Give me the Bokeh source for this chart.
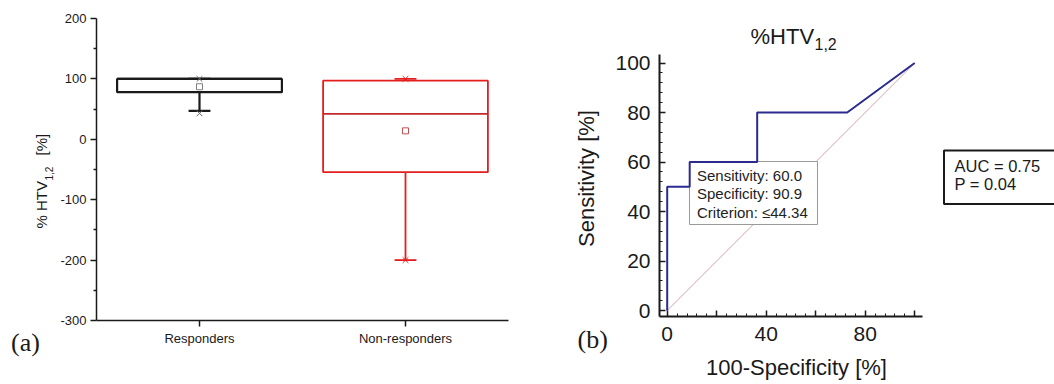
import math
from bokeh.plotting import figure
from bokeh.layouts import row
from bokeh.models import Range1d, SingleIntervalTicker, FixedTicker, Label
from bokeh.embed import file_html
from bokeh.resources import INLINE
from bokeh.core.properties import value

# ---------------- panel (a): box plot data ----------------
groups = ["Responders", "Non-responders"]
group_pos = [1, 2]
q1 = [78, -54.5]
q3 = [100, 97]
median = [100, 42]
mean = [87, 14]
whisk_low = [47, -200]
whisk_high = [100, 100]
x_min = [43, -200]
x_max = [100, 100]
y_ticks_a = [-300, -200, -100, 0, 100, 200]

# ---------------- panel (b): ROC data ----------------
fpr = [0, 0, 9.09, 9.09, 36.36, 36.36, 72.73, 100]     # 100-Specificity [%]
tpr = [0, 50, 50, 60, 60, 80, 80, 100]                 # Sensitivity [%]
chance_x = [0, 100]
chance_y = [0, 100]
criterion_lines = ["Sensitivity: 60.0", "Specificity: 90.9", "Criterion: \u226444.34"]
auc_lines = ["AUC = 0.75", "P = 0.04"]

SANS = "Liberation Sans"
SERIF = "Liberation Serif"
BLACK = "#1a1a1a"
RED = "#e41e1e"
NAVY = "#2b2b8f"
H = 384

# page-pixel helpers; every frame covers its whole figure, axes use fixed_location
# panel a: x 0.5 at page 96, 2.5 at page 508 ; y 200 at page 18, -300 at page 320
AXS = 412.0 / 2.0
AYS = 302.0 / 500.0
def ax(px):
    return 0.5 + (px - 96) / AXS
def ay(py):
    return 200 - (py - 18) / AYS
# panel b: 2.475 px per unit, x=0 at page 666.7, y=0 at page 310
S = 2.475
def bx(px):
    return (px - 666.7) / S
def by(py):
    return (310 - py) / S

def base_fig(w, xr, yr, **kw):
    p = figure(width=w, height=H, x_range=xr, y_range=yr, output_backend="svg",
               toolbar_location=None, min_border_left=0, min_border_right=0,
               min_border_top=0, min_border_bottom=0, **kw)
    p.grid.visible = False
    p.outline_line_color = None
    p.border_fill_color = "white"
    p.background_fill_color = "white"
    return p

def lab(p, x, y, text, size, font=SANS, **kw):
    opts = dict(text_align="left", text_baseline="middle", text_color=BLACK)
    opts.update(kw)
    p.add_layout(Label(x=x, y=y, text=text, text_font=font, text_font_size=size, **opts))

# ======================= panel (a) =======================
P1W = 548
p1 = base_fig(P1W, Range1d(ax(0), ax(P1W)), Range1d(ay(H), ay(0)))
p1.yaxis.ticker = FixedTicker(ticks=y_ticks_a, minor_ticks=[t + 50 for t in y_ticks_a[:-1]])
p1.yaxis.major_label_overrides = {t: str(t) for t in y_ticks_a}
p1.yaxis.fixed_location = 0.5
p1.yaxis.bounds = (-300, 200)
p1.xaxis.ticker = FixedTicker(ticks=group_pos)
p1.xaxis.major_label_overrides = {g: n for g, n in zip(group_pos, groups)}
p1.xaxis.fixed_location = -300
p1.xaxis.bounds = (0.5, 2.5)
for axis in (p1.xaxis, p1.yaxis):
    axis.axis_line_width = 1.5
    axis.axis_line_color = BLACK
    axis.major_tick_line_width = 1.5
    axis.major_tick_line_color = BLACK
    axis.minor_tick_line_width = 1.5
    axis.minor_tick_line_color = BLACK
    axis.major_tick_in = 0
    axis.major_tick_out = 6
    axis.minor_tick_in = 0
    axis.minor_tick_out = 3
    axis.major_label_text_font = SANS
    axis.major_label_text_font_size = "13px"
    axis.major_label_text_color = BLACK
    axis.major_label_standoff = 4
p1.xaxis.minor_tick_line_color = None

box_colors = [BLACK, RED]
median_colors = [BLACK, "#c22a2a"]
mean_colors = ["#808080", "#c05050"]
marker_colors = ["#666666", RED]
box_widths = [2.2, 1.8]

p1.vbar(x=group_pos, width=0.8, bottom=q1, top=q3, fill_color="white",
        line_color=box_colors, line_width=box_widths)
p1.segment(x0=[g - 0.4 for g in group_pos], x1=[g + 0.4 for g in group_pos],
           y0=median, y1=median, line_color=median_colors, line_width=box_widths)
p1.segment(x0=group_pos, x1=group_pos, y0=q1, y1=whisk_low, line_color=box_colors, line_width=box_widths)
p1.segment(x0=group_pos, x1=group_pos, y0=q3, y1=whisk_high, line_color=box_colors, line_width=box_widths)
cap = 0.053
p1.segment(x0=[g - cap for g in group_pos], x1=[g + cap for g in group_pos],
           y0=whisk_low, y1=whisk_low, line_color=box_colors, line_width=box_widths)
p1.segment(x0=[g - cap for g in group_pos], x1=[g + cap for g in group_pos],
           y0=whisk_high, y1=whisk_high, line_color=box_colors, line_width=box_widths)
p1.scatter(x=group_pos, y=x_min, marker="x", size=8, line_color=marker_colors, line_width=1)
p1.scatter(x=group_pos, y=x_max, marker="x", size=8, line_color=marker_colors, line_width=1)
p1.scatter(x=group_pos, y=mean, marker="square", size=6, fill_color=None,
           line_color=mean_colors, line_width=1)

# y-axis title with subscript
lab(p1, ax(41), ay(228), "% HTV", "15px", angle=math.pi / 2)
lab(p1, ax(48.5), ay(180), "1,2", "10px", angle=math.pi / 2)
lab(p1, ax(41), ay(155), "[%]", "15px", angle=math.pi / 2)
lab(p1, ax(10.5), ay(342), "(a)", "26px", font=SERIF)

# ======================= panel (b) =======================
P2X, P2W = 548, 382
p2 = base_fig(P2W, Range1d(bx(P2X), bx(P2X + P2W)), Range1d(by(H), by(0)))
p2.xaxis.ticker = SingleIntervalTicker(interval=20, num_minor_ticks=5)
p2.yaxis.ticker = SingleIntervalTicker(interval=20, num_minor_ticks=5)
p2.xaxis.major_label_overrides = {20: "", 60: "", 100: ""}
p2.xaxis.fixed_location = by(316)
p2.xaxis.bounds = (bx(659), bx(921.7))
p2.yaxis.fixed_location = bx(659)
p2.yaxis.bounds = (by(316), by(53.5))
for axis in (p2.xaxis, p2.yaxis):
    axis.axis_line_width = 2
    axis.axis_line_color = BLACK
    axis.major_tick_line_width = 1.5
    axis.major_tick_line_color = BLACK
    axis.minor_tick_line_width = 1
    axis.minor_tick_line_color = BLACK
    axis.major_tick_in = 6
    axis.major_tick_out = 0
    axis.minor_tick_in = 3
    axis.minor_tick_out = 0
    axis.major_label_text_font = SANS
    axis.major_label_text_font_size = "21px"
    axis.major_label_text_color = BLACK
p2.yaxis.major_label_standoff = 9
p2.xaxis.major_label_standoff = 10

p2.line(chance_x, chance_y, line_color="#d9a6a6", line_width=1)
p2.quad(left=[bx(689)], right=[bx(817)], top=[by(161)], bottom=[by(224)],
        fill_color="white", line_color="#9a9a9a", line_width=1)
p2.line(fpr, tpr, line_color=NAVY, line_width=2)
for i, t in enumerate(criterion_lines):
    lab(p2, bx(696.5), by(175 + 18.3 * i), t, "15px", text_color="#222222")

lab(p2, bx(750), by(35.5), "%HTV", "22px")
lab(p2, bx(814), by(43), "1,2", "16px")
lab(p2, bx(586), by(178), "Sensitivity [%]", "22px", angle=math.pi / 2, text_align="center")
lab(p2, bx(796), by(366.5), "100-Specificity [%]", "22px", text_align="center")
lab(p2, bx(577), by(339), "(b)", "26px", font=SERIF)

# ======================= AUC box =======================
P3X = P2X + P2W
P3W = 1054 - P3X
p3 = base_fig(P3W, Range1d(P3X, P3X + P3W), Range1d(H, 0), x_axis_type=None, y_axis_type=None)
p3.quad(left=[943.5], right=[1070], top=[150], bottom=[203.5], fill_color="white",
        line_color=BLACK, line_width=2)
p3.text(x=[954, 954], y=[165, 183], text=auc_lines, text_font=value(SANS),
        text_font_size="16.5px", text_baseline="middle", text_align="left", text_color=BLACK)

layout = row(p1, p2, p3, spacing=0)
open("out.html", "w").write(file_html(layout, INLINE))
